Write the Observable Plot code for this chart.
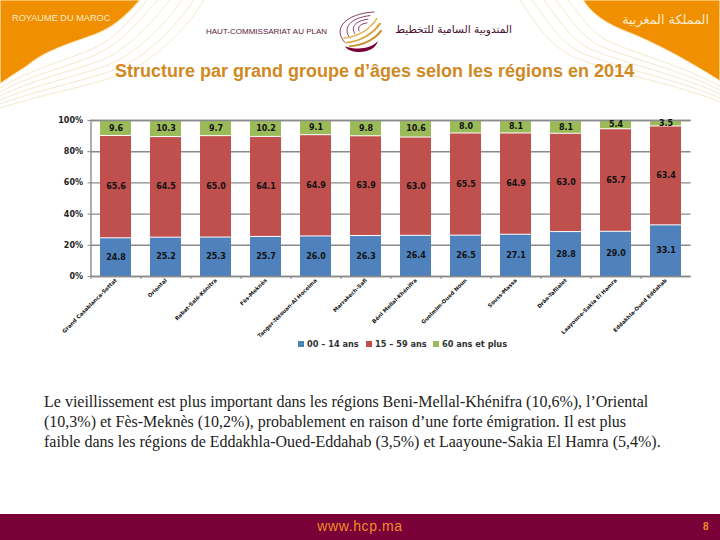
<!DOCTYPE html>
<html lang="fr">
<head>
<meta charset="utf-8">
<script src="https://cdn.jsdelivr.net/npm/d3@7"></script>
<script src="https://cdn.jsdelivr.net/npm/@observablehq/plot@0.6"></script>
<style>
html,body{margin:0;padding:0;background:#fff}
#page{position:relative;width:720px;height:540px;overflow:hidden;background:#fff}
#page>*{position:absolute}
.t{white-space:nowrap}
#title{left:115px;top:61px;font:bold 18px "Liberation Sans",Arial,sans-serif;color:#D1891F}
.body{left:44px;font:16px/18px "Liberation Serif",serif;color:#222;white-space:nowrap}
#footer{left:0;top:514px;width:720px;height:26px;background:#7A0038}
#url{left:0;top:518px;width:720px;text-align:center;font:14px "Liberation Sans",sans-serif;letter-spacing:.6px;color:#F08C28}
#num{left:703px;top:521px;font:bold 10px "Liberation Sans",sans-serif;color:#F08C28}
#chart{left:0;top:100px}
.leg{top:339px;font:bold 8.2px "DejaVu Sans",sans-serif;color:#333;white-space:nowrap}
.sw{top:341px;width:6px;height:6px}
</style>
</head>
<body>
<div id="page">
<svg style="left:0;top:0" width="720" height="110" viewBox="0 0 720 110" fill="none">
  <g stroke="#EBD9A8" stroke-width=".6">
    <path d="M0 88C30 70 60 62 90 50C115 40 130 20 147 0"/>
    <path d="M0 92C30 75 65 68 95 55C122 43 140 20 158 0"/>
    <path d="M0 96C32 80 70 72 102 60C130 48 152 22 170 0"/>
    <path d="M0 100C35 85 75 77 108 65C138 53 165 24 182 0"/>
    <path d="M0 104C38 90 80 82 114 70C146 58 176 26 194 0"/>
    <path d="M0 108C40 95 85 87 120 75C152 63 188 28 204 0"/>
    <path d="M720 86C680 65 640 55 610 42C590 32 580 15 568 0"/>
    <path d="M720 90C680 70 635 60 600 46C580 36 568 15 556 0"/>
    <path d="M720 94C680 75 630 65 592 50C570 40 556 16 544 0"/>
    <path d="M720 98C680 80 625 70 584 54C560 44 544 16 532 0"/>
    <path d="M720 102C680 85 620 75 576 58C550 48 532 18 520 0"/>
  </g>
  <path d="M0 0H140C125 18 112 28 96 34C75 42 45 50 27 66C15 74 8 78 0 84Z" fill="#F08F00" stroke="#FBEBC5" stroke-width="1.2"/>
  <path d="M583 0C590 12 605 24 630 33C660 45 690 62 720 81V0Z" fill="#F08F00" stroke="#FBEBC5" stroke-width="1.2"/>
  <g transform="translate(0,0.36) scale(1,0.727)">
    <g stroke-linecap="round">
      <path d="M345 58C332 40 345 18 374 16" stroke="#7A1F4A" stroke-width="1"/>
      <path d="M350 52C342 38 350 24 370 21" stroke="#7A1F4A" stroke-width="1"/>
      <path d="M355 46C350 36 356 28 368 26" stroke="#7A1F4A" stroke-width="1"/>
      <path d="M359 42C357 36 361 32 367 31" stroke="#7A1F4A" stroke-width="1"/>
      <path d="M347 58C362 56 374 44 380 32" stroke="#DDA63A" stroke-width="2.4"/>
      <path d="M344 52C358 50 370 40 377 25" stroke="#E6BC62" stroke-width="2"/>
      <path d="M350 63C364 62 376 52 381 42" stroke="#C9902A" stroke-width="2.4"/>
    </g>
    <path d="M345 63C355 68 370 68 378 56C376 66 368 71 360 71C353 71 347 68 345 63Z" fill="#7A0038"/>
  </g>
</svg>
<div class="t" style="left:12px;top:13px;font:9.2px 'Liberation Sans',sans-serif;color:#FBEBCB">ROYAUME DU MAROC</div>
<div class="t" style="left:206px;top:27px;font:8px 'Liberation Sans',sans-serif;color:#5A1A3C">HAUT-COMMISSARIAT AU PLAN</div>
<div class="t" dir="rtl" style="left:392px;top:23px;width:120px;font:10.6px 'DejaVu Sans',sans-serif;color:#4A1030">المندوبية السامية للتخطيط</div>
<div class="t" dir="rtl" style="left:620px;top:12px;width:89px;font:12.8px 'DejaVu Sans',sans-serif;color:#FBEBCB">المملكة المغربية</div>
<div id="title" class="t">Structure par grand groupe d’âges selon les régions en 2014</div>
<div id="chart"></div>
<div id="legend"></div>
<div class="body" style="top:393px">Le vieillissement est plus important dans les régions Beni-Mellal-Khénifra (10,6%), l’Oriental</div>
<div class="body" style="top:413px">(10,3%) et Fès-Meknès (10,2%), probablement en raison d’une forte émigration. Il est plus</div>
<div class="body" style="top:433px">faible dans les régions de Eddakhla-Oued-Eddahab (3,5%) et Laayoune-Sakia El Hamra (5,4%).</div>
<div id="footer"></div>
<div id="url">www.hcp.ma</div>
<div id="num">8</div>
</div>
<script>
const regions = ["Grand Casablanca-Settat","Oriental","Rabat-Salé-Kénitra","Fès-Meknès","Tanger-Tétouan-Al Hoceima","Marrakech-Safi","Béni Mellal-Khénifra","Guelmim-Oued Noun","Souss-Massa","Drâa-Tafilalet","Laayoune-Sakia El Hamra","Eddakhla-Oued Eddahab"];
const age00_14 = [24.8,25.2,25.3,25.7,26.0,26.3,26.4,26.5,27.1,28.8,29.0,33.1];
const age15_59 = [65.6,64.5,65.0,64.1,64.9,63.9,63.0,65.5,64.9,63.0,65.7,63.4];
const age60plus = [9.6,10.3,9.7,10.2,9.1,9.8,10.6,8.0,8.1,8.1,5.4,3.5];
const groups = ["00 – 14 ans","15 – 59 ans","60 ans et plus"];
const colors = ["#4F81BD","#C0504D","#9BBB59"];
const yTicks = [0,20,40,60,80,100];
const series = [age00_14,age15_59,age60plus];
const rows = groups.flatMap((g,i)=>regions.map((r,j)=>({region:r,group:g,value:series[i][j]})));

const plot = Plot.plot({
  width:720,height:240,
  marginLeft:90.5,marginRight:29.5,marginTop:20,marginBottom:64,
  style:{background:"transparent",overflow:"visible"},
  x:{domain:regions,paddingInner:0.38,paddingOuter:0.19,label:null},
  y:{domain:[0,100],label:null},
  color:{domain:groups,range:colors},
  marks:[
    Plot.gridY(yTicks,{stroke:"#8A8A8A",strokeOpacity:1,strokeWidth:1.4}),
    Plot.barY(rows,Plot.stackY({x:"region",y:"value",z:"group",fill:"group",order:null,insetTop:1})),
    Plot.ruleY([100],{stroke:"#8A8A8A",strokeWidth:1.4}),
    Plot.ruleY([0],{stroke:"#8A8A8A",strokeWidth:1.4}),
    Plot.axisY({ticks:yTicks,tickFormat:d=>d+"%",tickSize:3,tickPadding:5,stroke:"#8A8A8A",fontSize:8,fontWeight:"bold",fill:"#222",fontFamily:"DejaVu Sans",label:null}),
    Plot.frame({anchor:"left",stroke:"#8A8A8A",strokeWidth:1.4}),
    Plot.axisX({ticks:regions,text:null,tickSize:3,dx:-25,stroke:"#8A8A8A",label:null}),
    Plot.axisX({ticks:regions,tickSize:0,tickPadding:3,tickRotate:-45,fontSize:5.3,fontWeight:"bold",fontFamily:"DejaVu Sans",fill:"#111",label:null}),
    Plot.text(rows,Plot.stackY({x:"region",y:"value",z:"group",order:null,text:d=>d.value.toFixed(1),fontSize:8,fontWeight:"bold",fontFamily:"DejaVu Sans",fill:"#111"}))
  ]
});
document.getElementById("chart").append(plot);

const legendPos = [[298,307],[366,375],[433,442]];
const legend = document.getElementById("legend");
groups.forEach((g,i)=>{
  const s=document.createElement("div");
  s.className="sw";s.style.cssText=`position:absolute;left:${legendPos[i][0]}px;background:${colors[i]}`;
  const t=document.createElement("div");
  t.className="leg";t.textContent=g;t.style.cssText=`position:absolute;left:${legendPos[i][1]}px`;
  legend.append(s,t);
});
</script>
</body>
</html>
